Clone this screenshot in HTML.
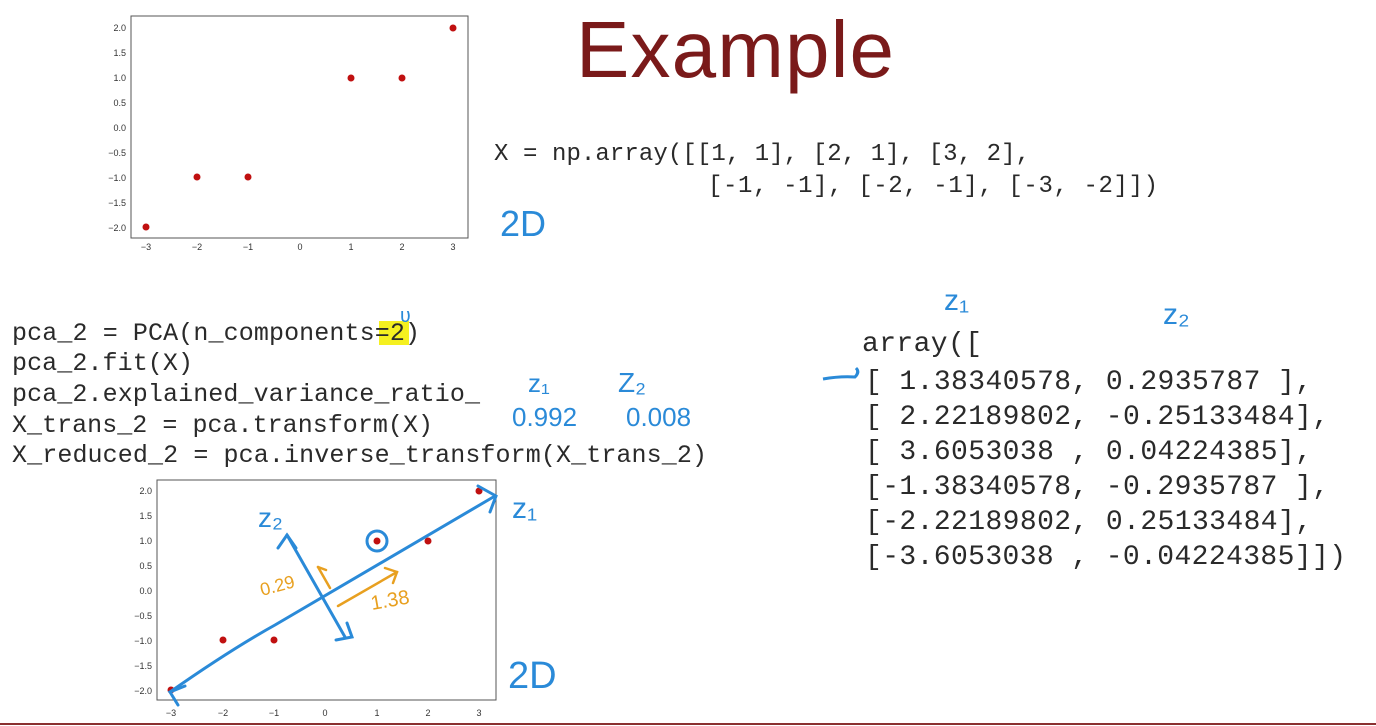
<!DOCTYPE html>
<html><head><meta charset="utf-8"><style>
html,body{margin:0;padding:0;background:#fff;}
svg{display:block;}
.m{font-family:"Liberation Mono",monospace;fill:#2a2a2a;}
.t{font-family:"Liberation Sans",sans-serif;font-size:9px;fill:#333;}
.h{font-family:"Liberation Sans",sans-serif;fill:#2a8ad8;}
.o{font-family:"Liberation Sans",sans-serif;fill:#e8a020;}
</style></head><body>
<svg width="1376" height="726" viewBox="0 0 1376 726" xmlns="http://www.w3.org/2000/svg">
<rect width="1376" height="726" fill="#fff"/>
<text x="576" y="77" font-family="Liberation Sans,sans-serif" font-size="80" fill="#7a1a1a" textLength="318">Example</text>

<rect x="131" y="16" width="337" height="222" fill="#fff" stroke="#555" stroke-width="1"/>
<g fill="#c01010">
<circle cx="146" cy="227" r="3.5"/><circle cx="197" cy="177" r="3.5"/><circle cx="248" cy="177" r="3.5"/>
<circle cx="351" cy="78" r="3.5"/><circle cx="402" cy="78" r="3.5"/><circle cx="453" cy="28" r="3.5"/>
</g>
<g class="t" text-anchor="end">
<text x="126" y="31">2.0</text><text x="126" y="56">1.5</text><text x="126" y="81">1.0</text><text x="126" y="106">0.5</text>
<text x="126" y="131">0.0</text><text x="126" y="156">−0.5</text><text x="126" y="181">−1.0</text><text x="126" y="206">−1.5</text><text x="126" y="231">−2.0</text>
</g>
<g class="t" text-anchor="middle">
<text x="146" y="250">−3</text><text x="197" y="250">−2</text><text x="248" y="250">−1</text><text x="300" y="250">0</text>
<text x="351" y="250">1</text><text x="402" y="250">2</text><text x="453" y="250">3</text>
</g>

<text class="m" x="494" y="160" font-size="24" textLength="536">X = np.array([[1, 1], [2, 1], [3, 2],</text>
<text class="m" x="708" y="192" font-size="24" textLength="450">[-1, -1], [-2, -1], [-3, -2]])</text>
<text class="h" x="500" y="236" font-size="36">2D</text>

<rect x="379" y="321" width="30" height="24" fill="#f5f020"/>
<g class="m" font-size="25">
<text x="12" y="340" textLength="408">pca_2 = PCA(n_components=2)</text>
<text x="12" y="370" textLength="181">pca_2.fit(X)</text>
<text x="12" y="401" textLength="468">pca_2.explained_variance_ratio_</text>
<text x="12" y="432" textLength="421">X_trans_2 = pca.transform(X)</text>
<text x="12" y="462" textLength="695">X_reduced_2 = pca.inverse_transform(X_trans_2)</text>
</g>
<text class="h" x="400" y="322" font-size="20">ʋ</text>
<text class="h" x="528" y="392" font-size="26">z₁</text>
<text class="h" x="618" y="392" font-size="28">Z₂</text>
<text class="h" x="512" y="426" font-size="26">0.992</text>
<text class="h" x="626" y="426" font-size="26">0.008</text>

<g class="m" font-size="28">
<text x="862" y="351" textLength="120">array([</text>
<text x="865" y="389" textLength="447">[ 1.38340578, 0.2935787 ],</text>
<text x="865" y="424" textLength="464">[ 2.22189802, -0.25133484],</text>
<text x="865" y="459" textLength="447">[ 3.6053038 , 0.04224385],</text>
<text x="865" y="494" textLength="464">[-1.38340578, -0.2935787 ],</text>
<text x="865" y="529" textLength="447">[-2.22189802, 0.25133484],</text>
<text x="865" y="564" textLength="481">[-3.6053038 , -0.04224385]])</text>
</g>
<text class="h" x="944" y="310" font-size="30">z₁</text>
<text class="h" x="1163" y="324" font-size="30">z₂</text>
<path d="M823 379 Q840 376 855 377 Q860 372 856 368" fill="none" stroke="#2a8ad8" stroke-width="3"/>

<rect x="157" y="480" width="339" height="220" fill="#fff" stroke="#555" stroke-width="1"/>
<g fill="#c01010">
<circle cx="171" cy="690" r="3.5"/><circle cx="223" cy="640" r="3.5"/><circle cx="274" cy="640" r="3.5"/>
<circle cx="377" cy="541" r="3.5"/><circle cx="428" cy="541" r="3.5"/><circle cx="479" cy="491" r="3.5"/>
</g>
<g class="t" text-anchor="end">
<text x="152" y="494">2.0</text><text x="152" y="519">1.5</text><text x="152" y="544">1.0</text><text x="152" y="569">0.5</text>
<text x="152" y="594">0.0</text><text x="152" y="619">−0.5</text><text x="152" y="644">−1.0</text><text x="152" y="669">−1.5</text><text x="152" y="694">−2.0</text>
</g>
<g class="t" text-anchor="middle">
<text x="171" y="716">−3</text><text x="223" y="716">−2</text><text x="274" y="716">−1</text><text x="325" y="716">0</text>
<text x="377" y="716">1</text><text x="428" y="716">2</text><text x="479" y="716">3</text>
</g>
<g fill="none" stroke="#2a8ad8" stroke-width="3" stroke-linecap="round">
<path d="M170 692 Q230 650 275 625 L495 496"/>
<path d="M478 486 L496 496 L490 512"/>
<path d="M185 686 L170 692 L178 705"/>
<path d="M287 535 L345 637"/>
<path d="M278 548 L287 535 L296 548"/>
<path d="M336 640 L352 637 L347 623"/>
<circle cx="377" cy="541" r="10"/>
</g>
<g fill="none" stroke="#e8a020" stroke-width="2.5" stroke-linecap="round">
<path d="M338 606 L397 572"/><path d="M385 568 L397 572 L393 583"/>
<path d="M330 588 L318 567"/><path d="M318 567 L326 570"/>
</g>
<text class="h" x="258" y="527" font-size="28">z₂</text>
<text class="h" x="512" y="518" font-size="30">z₁</text>
<text class="o" x="262" y="596" font-size="18" transform="rotate(-15 262 596)">0.29</text>
<text class="o" x="372" y="610" font-size="20" transform="rotate(-10 372 610)">1.38</text>
<text class="h" x="508" y="688" font-size="38">2D</text>

<rect x="0" y="723" width="1376" height="2" fill="#8a3030"/>
</svg>
</body></html>
